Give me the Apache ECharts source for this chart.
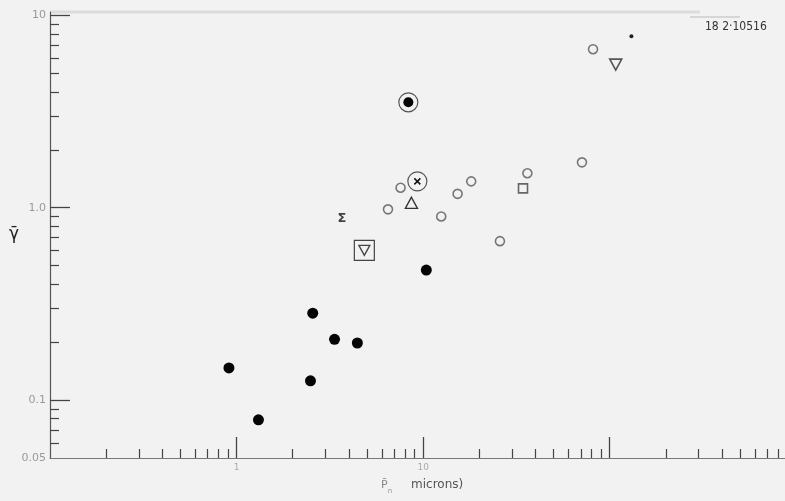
<!DOCTYPE html>
<html>
<head>
<meta charset="utf-8">
<script src="https://cdn.jsdelivr.net/npm/echarts@6/dist/echarts.min.js"></script>
<style>
  html, body { margin: 0; padding: 0; background: #f2f2f2; }
  #chart { width: 785px; height: 501px; }
</style>
</head>
<body>
<div id="chart"></div>
<script>
// axis ranges (log scales)
var xMin = 0.1, xMax = 870;
var yMin = 0.05, yMax = 10.4;

// tick values
var xMajorTicks = [1, 10, 100];
var xMajorLabels = ['1', '10', ''];
var xMinorTicks = [0.2, 0.3, 0.4, 0.5, 0.6, 0.7, 0.8, 0.9,
                   2, 3, 4, 5, 6, 7, 8, 9,
                   20, 30, 40, 50, 60, 70, 80, 90,
                   200, 300, 400, 500, 600, 700, 800];
var yMajorTicks = [0.05, 0.1, 1, 10];
var yMajorLabels = ['0.05', '0.1', '1.0', '10'];
var yMinorTicks = [0.06, 0.07, 0.08, 0.09,
                   0.2, 0.3, 0.4, 0.5, 0.6, 0.7, 0.8, 0.9,
                   2, 3, 4, 5, 6, 7, 8, 9];

// data, one pair of arrays per marker kind
var filledX = [0.91, 1.31, 2.56, 3.35, 4.44, 2.49, 10.4];
var filledY = [0.147, 0.079, 0.283, 0.207, 0.198, 0.126, 0.474];
var openX = [7.57, 6.48, 12.5, 15.3, 18.1, 25.8, 36.2, 71.0, 81.4];
var openY = [1.27, 0.98, 0.90, 1.18, 1.37, 0.67, 1.51, 1.72, 6.66];
var squareX = [34.3];
var squareY = [1.26];
var triUpX = [8.65];
var triUpY = [1.06];
var triDownX = [107.7];
var triDownY = [5.54];
var boxedTriX = [4.84];
var boxedTriY = [0.60];
var ringDotX = [8.33];
var ringDotY = [3.53];
var ringCrossX = [9.31];
var ringCrossY = [1.37];
var sigmaX = [3.67];
var sigmaY = [0.875];
var starX = [130.7];
var starY = [7.78];

function pairs(xs, ys) {
    return xs.map(function (x, i) { return [x, ys[i]]; });
}
function logs(arr) {
    return arr.map(function (v) { return Math.log10(v); });
}
function labelFor(ticks, labels) {
    return function (v) {
        var raw = Math.pow(10, v);
        for (var i = 0; i < ticks.length; i++) {
            if (Math.abs(raw - ticks[i]) / ticks[i] < 0.01) return labels[i];
        }
        return '';
    };
}

var downTri = 'path://M0,0L10,0L5,9Z';
var cross = 'path://M0,0L10,10M10,0L0,10';
var hollow = 'rgba(0,0,0,0)';

var chart = echarts.init(document.getElementById('chart'));

var option = {
    backgroundColor: '#f2f2f2',
    animation: false,
    grid: { left: 50, right: 0, top: 12, bottom: 43, outerBoundsMode: 'none' },
    xAxis: [
        {
            type: 'log', position: 'bottom', min: xMin, max: xMax,
            axisLine: { onZero: false, lineStyle: { color: '#777', width: 1.2 } },
            axisTick: { show: false }, axisLabel: { show: false }, splitLine: { show: false }
        },
        {
            type: 'value', position: 'bottom', min: Math.log10(xMin), max: Math.log10(xMax),
            axisLine: { show: false, onZero: false }, splitLine: { show: false },
            axisTick: { inside: true, length: 9, lineStyle: { color: '#444', width: 1.2 }, customValues: logs(xMinorTicks) },
            axisLabel: { show: false }
        },
        {
            type: 'value', position: 'bottom', min: Math.log10(xMin), max: Math.log10(xMax),
            axisLine: { show: false, onZero: false }, splitLine: { show: false },
            axisTick: { inside: true, length: 21, lineStyle: { color: '#444', width: 1.3 }, customValues: logs(xMajorTicks) },
            axisLabel: {
                customValues: logs(xMajorTicks), margin: 5,
                color: '#aaa', fontSize: 9, fontFamily: 'DejaVu Sans',
                formatter: labelFor(xMajorTicks, xMajorLabels)
            }
        }
    ],
    yAxis: [
        {
            type: 'log', position: 'left', min: yMin, max: yMax,
            axisLine: { onZero: false, lineStyle: { color: '#555', width: 1.2 } },
            axisTick: { show: false }, axisLabel: { show: false }, splitLine: { show: false }
        },
        {
            type: 'value', position: 'left', min: Math.log10(yMin), max: Math.log10(yMax),
            axisLine: { show: false, onZero: false }, splitLine: { show: false },
            axisTick: { inside: true, length: 9, lineStyle: { color: '#444', width: 1.2 }, customValues: logs(yMinorTicks) },
            axisLabel: { show: false }
        },
        {
            type: 'value', position: 'left', min: Math.log10(yMin), max: Math.log10(yMax),
            axisLine: { show: false, onZero: false }, splitLine: { show: false },
            axisTick: { inside: true, length: 20, lineStyle: { color: '#444', width: 1.3 }, customValues: logs([0.1, 1, 10]) },
            axisLabel: {
                customValues: logs(yMajorTicks), margin: 4,
                color: '#999', fontSize: 11, fontFamily: 'DejaVu Sans',
                formatter: labelFor(yMajorTicks, yMajorLabels)
            }
        }
    ],
    graphic: [
        { type: 'line', shape: { x1: 50, y1: 12, x2: 700, y2: 12 }, style: { stroke: '#dcdcdc', lineWidth: 3 } },
        { type: 'line', shape: { x1: 690, y1: 17, x2: 740, y2: 17 }, style: { stroke: '#bbb', lineWidth: 1 } },
        { type: 'text', left: 705, top: 21, style: { text: '18 2·10516', fontSize: 12, fontFamily: 'DejaVu Sans Condensed', fill: '#333' } },
        { type: 'text', left: 9, top: 226, style: { text: 'γ\u0304', fontSize: 17, fontFamily: 'DejaVu Sans', fill: '#222' } },
        {
            type: 'text', left: 381, top: 479,
            style: {
                text: '{p|P\u0304}{s|n}{t|microns)}',
                rich: {
                    p: { fontSize: 11, fill: '#888', fontFamily: 'DejaVu Sans' },
                    s: { fontSize: 7, fill: '#999', padding: [12, 0, 0, 0], fontFamily: 'DejaVu Sans' },
                    t: { fontSize: 12, fill: '#555', fontFamily: 'DejaVu Sans', padding: [0, 0, 0, 19] }
                }
            }
        }
    ],
    series: [
        {
            name: 'filled', type: 'scatter', data: pairs(filledX, filledY),
            symbol: 'circle', symbolSize: 11, itemStyle: { color: '#050505', opacity: 1 }
        },
        {
            name: 'open', type: 'scatter', data: pairs(openX, openY),
            symbol: 'circle', symbolSize: 9,
            itemStyle: { color: hollow, borderColor: '#777', borderWidth: 1.6, opacity: 1 }
        },
        {
            name: 'square', type: 'scatter', data: pairs(squareX, squareY),
            symbol: 'rect', symbolSize: 9,
            itemStyle: { color: hollow, borderColor: '#666', borderWidth: 1.6, opacity: 1 }
        },
        {
            name: 'triangle', type: 'scatter', data: pairs(triUpX, triUpY),
            symbol: 'triangle', symbolSize: [12, 11],
            itemStyle: { color: hollow, borderColor: '#333', borderWidth: 1.4, opacity: 1 }
        },
        {
            name: 'down', type: 'scatter', data: pairs(triDownX, triDownY),
            symbol: downTri, symbolSize: [12, 11],
            itemStyle: { color: hollow, borderColor: '#555', borderWidth: 1.6, opacity: 1 }
        },
        {
            name: 'box', type: 'scatter', data: pairs(boxedTriX, boxedTriY),
            symbol: 'rect', symbolSize: 20,
            itemStyle: { color: hollow, borderColor: '#444', borderWidth: 1.2, opacity: 1 }
        },
        {
            name: 'boxTri', type: 'scatter', data: pairs(boxedTriX, boxedTriY),
            symbol: downTri, symbolSize: [11, 10],
            itemStyle: { color: hollow, borderColor: '#444', borderWidth: 1.3, opacity: 1 }
        },
        {
            name: 'ring1', type: 'scatter', data: pairs(ringDotX, ringDotY),
            symbol: 'circle', symbolSize: 19,
            itemStyle: { color: hollow, borderColor: '#555', borderWidth: 1.2, opacity: 1 }
        },
        {
            name: 'dot1', type: 'scatter', data: pairs(ringDotX, ringDotY),
            symbol: 'circle', symbolSize: 10, itemStyle: { color: '#050505', opacity: 1 }
        },
        {
            name: 'ring2', type: 'scatter', data: pairs(ringCrossX, ringCrossY),
            symbol: 'circle', symbolSize: 19,
            itemStyle: { color: hollow, borderColor: '#555', borderWidth: 1.2, opacity: 1 }
        },
        {
            name: 'cross', type: 'scatter', data: pairs(ringCrossX, ringCrossY),
            symbol: cross, symbolSize: 6,
            itemStyle: { color: hollow, borderColor: '#111', borderWidth: 1.5, opacity: 1 }
        },
        {
            name: 'sigma', type: 'scatter', data: pairs(sigmaX, sigmaY),
            symbolSize: 1, itemStyle: { color: hollow },
            label: {
                show: true, position: 'inside', formatter: 'Σ',
                fontSize: 13, fontWeight: 'bold', color: '#111', fontFamily: 'DejaVu Sans'
            }
        },
        {
            name: 'star', type: 'scatter', data: pairs(starX, starY),
            symbol: 'circle', symbolSize: 4, itemStyle: { color: '#222', opacity: 1 }
        }
    ]
};

chart.setOption(option);
</script>
</body>
</html>
